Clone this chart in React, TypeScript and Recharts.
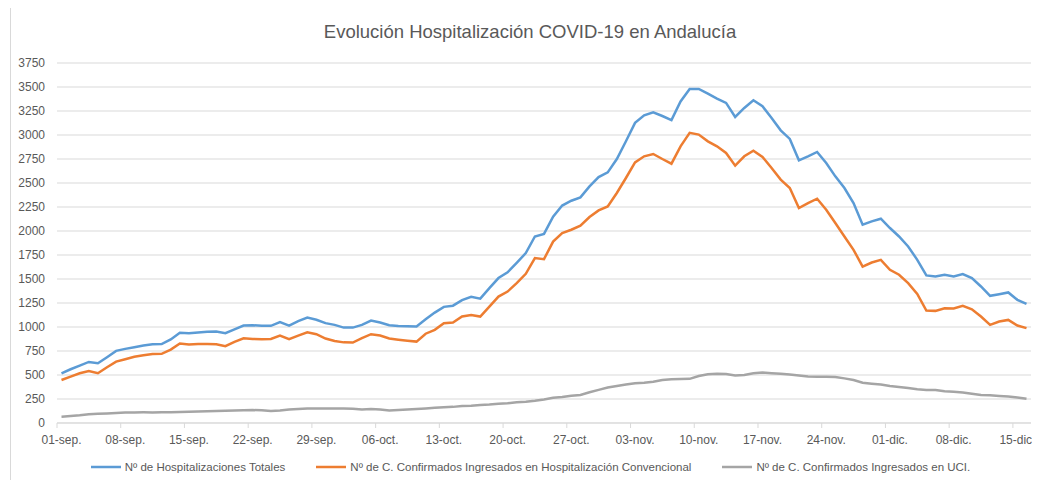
import { CartesianGrid, Line, LineChart, XAxis, YAxis } from "recharts";

// Datos diarios, 01-sep a 16-dic
const MONTHS: [string, number][] = [
  ["sep", 30],
  ["oct", 31],
  ["nov", 30],
  ["dic", 16],
];

const DAYS: string[] = MONTHS.flatMap(([m, n]) =>
  Array.from({ length: n }, (_, i) => `${String(i + 1).padStart(2, "0")}-${m}.`)
);

const TOTALES = [
  518, 560, 598, 636, 622, 685, 751, 772, 790, 808, 820, 822, 870, 940,
  935, 942, 950, 952, 935, 975, 1015, 1019, 1012, 1012, 1050, 1015, 1062, 1099,
  1075, 1040, 1022, 994, 994, 1022, 1067, 1046, 1018, 1010, 1008, 1005,
  1080, 1150, 1210, 1222, 1280, 1314, 1295, 1405, 1510, 1570, 1668, 1770, 1943, 1970,
  2150, 2265, 2315, 2350, 2465, 2562, 2611, 2750, 2935, 3126, 3205, 3237, 3198, 3156, 3350,
  3480, 3480, 3431, 3379, 3334, 3188, 3282, 3362, 3299, 3178, 3049, 2959, 2736,
  2778, 2823, 2708, 2569, 2448, 2291, 2065, 2100, 2128, 2031, 1943, 1839, 1700, 1537,
  1526, 1544, 1526, 1551, 1509, 1422, 1325, 1342, 1360, 1283, 1241,
];

const CONVENCIONAL = [
  448, 483, 518, 542, 518, 581, 639, 664, 690, 705, 718, 720, 765, 828,
  818, 822, 824, 820, 800, 845, 883, 875, 873, 875, 911, 873, 910, 944,
  925, 880, 855, 840, 838, 883, 925, 911, 880, 868, 858, 848,
  930, 970, 1040, 1046, 1109, 1126, 1109, 1213, 1317, 1369, 1457, 1554, 1718, 1707,
  1890, 1978, 2013, 2055, 2145, 2214, 2256, 2396, 2552, 2715, 2778, 2802, 2750, 2701, 2882,
  3022, 3004, 2934, 2882, 2813, 2681, 2778, 2837, 2771, 2656, 2535, 2448, 2239,
  2291, 2336, 2222, 2083, 1943, 1804, 1630, 1672, 1700, 1596, 1544, 1457, 1345, 1171,
  1168, 1196, 1192, 1220, 1185, 1109, 1022, 1057, 1074, 1015, 988,
];

const UCI = [
  66, 72, 80, 92, 97, 100, 105, 110, 110, 111, 110, 112, 113, 115,
  118, 120, 122, 125, 128, 130, 133, 135, 132, 125, 130, 140, 146, 150,
  152, 152, 152, 150, 148, 140, 145, 140, 130, 135, 140, 145,
  152, 158, 164, 168, 177, 180, 188, 192, 200, 205, 215, 222, 232, 245,
  262, 272, 285, 292, 320, 345, 370, 385, 400, 414, 420, 430, 448, 455, 458,
  460, 490, 508, 512, 510, 495, 500, 518, 525, 518, 512, 505, 495,
  485, 483, 483, 478, 465, 448, 420, 410, 400, 385, 375, 365, 352, 345,
  344, 330, 325, 318, 305, 292, 290, 282, 275, 265, 252,
];

const Y_TICKS = [0, 250, 500, 750, 1000, 1250, 1500, 1750, 2000, 2250, 2500, 2750, 3000, 3250, 3500, 3750];

const SERIES = [
  { key: "totales", name: "Nº de Hospitalizaciones Totales", color: "#5B9BD5" },
  { key: "convencional", name: "Nº de C. Confirmados Ingresados en Hospitalización Convencional", color: "#ED7D31" },
  { key: "uci", name: "Nº de C. Confirmados Ingresados en UCI.", color: "#A5A5A5" },
];

const data = DAYS.map((day, i) => ({
  day,
  totales: TOTALES[i],
  convencional: CONVENCIONAL[i],
  uci: UCI[i],
}));

const FONT = "'Liberation Sans', Arial, sans-serif";
const TEXT = "#595959";
const GRID = "#d9d9d9";

function DayTick({ x, y, payload }: any) {
  return (
    <g>
      <line x1={x - 4.5} x2={x - 4.5} y1={y - 8} y2={y - 3} stroke={GRID} />
      <text x={x} y={y} dy={13} textAnchor="middle" fill={TEXT} fontSize={12} fontFamily={FONT}>
        {payload.value}
      </text>
    </g>
  );
}

function ChartLegend() {
  return (
    <div
      style={{
        position: "absolute",
        left: 10,
        width: 1040,
        top: 461,
        display: "flex",
        justifyContent: "center",
        gap: 30,
        fontFamily: FONT,
        fontSize: 11.5,
        color: TEXT,
      }}
    >
      {SERIES.map((s) => (
        <span key={s.key} style={{ display: "flex", alignItems: "center" }}>
          <svg width={32} height={8} style={{ marginRight: 3 }}>
            <line x1={1} x2={31} y1={4} y2={4} stroke={s.color} strokeWidth={2.5} />
          </svg>
          {s.name}
        </span>
      ))}
    </div>
  );
}

export default function App() {
  return (
    <div
      style={{
        position: "relative",
        width: 1040,
        height: 488,
        margin: -8,
        background: "#fff",
        overflow: "hidden",
      }}
    >
      <div
        style={{
          position: "absolute",
          left: 10,
          top: -1,
          width: 1060,
          height: 487,
          border: `1px solid ${GRID}`,
          boxSizing: "border-box",
        }}
      />
      <div
        style={{
          position: "absolute",
          left: 10,
          width: 1040,
          top: 21,
          textAlign: "center",
          fontFamily: FONT,
          fontSize: 18.5,
          color: TEXT,
        }}
      >
        Evolución Hospitalización COVID-19 en Andalucía
      </div>
      <LineChart
        width={1040}
        height={488}
        data={data}
        margin={{ top: 63, right: 9, bottom: 40, left: 12 }}
        style={{ position: "absolute", left: 0, top: 0 }}
      >
        <CartesianGrid vertical={false} stroke={GRID} />
        <XAxis
          dataKey="day"
          height={25}
          interval={6}
          padding={{ left: 4.5, right: 4.5 }}
          axisLine={{ stroke: GRID }}
          tickLine={false}
          tick={<DayTick />}
        />
        <YAxis
          width={45}
          domain={[0, 3750]}
          ticks={Y_TICKS}
          axisLine={false}
          tickLine={false}
          tickSize={0}
          tickMargin={12}
          tick={{ fill: TEXT, fontSize: 12, fontFamily: FONT }}
        />
        {SERIES.map((s) => (
          <Line
            key={s.key}
            type="linear"
            dataKey={s.key}
            name={s.name}
            stroke={s.color}
            strokeWidth={2.5}
            dot={false}
            isAnimationActive={false}
          />
        ))}
      </LineChart>
      <ChartLegend />
    </div>
  );
}
